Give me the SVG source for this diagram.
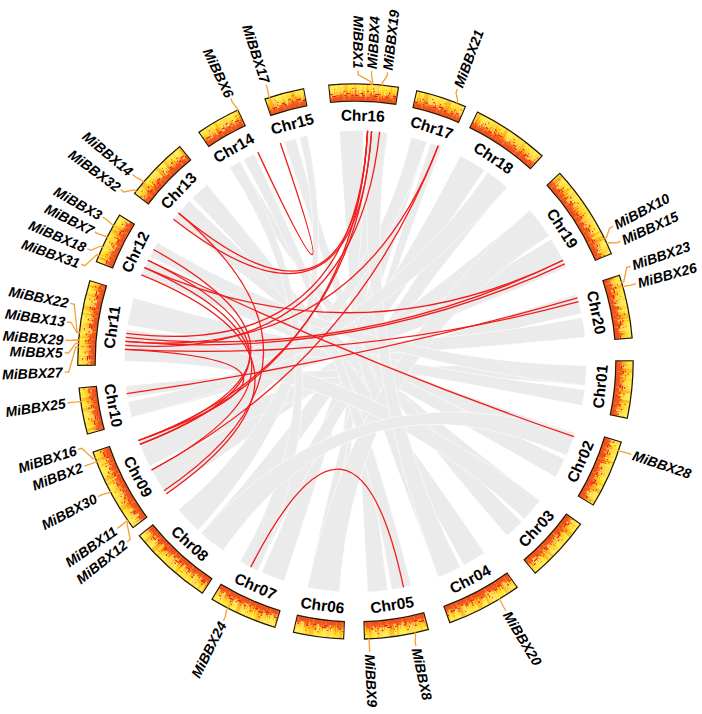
<svg xmlns="http://www.w3.org/2000/svg" xmlns:xlink="http://www.w3.org/1999/xlink" width="702" height="714" viewBox="0 0 702 714">
<style>
.rib{fill:#ebebeb;stroke:#ffffff;stroke-width:0.6}
.red{fill:none;stroke:#f21c1c;stroke-width:1.3}
.bo{fill:none;stroke:#2a1800;stroke-width:18.6}
.bf{fill:none;stroke:url(#heat);stroke-width:16}
.tx{fill:none}
.cl{font-family:"Liberation Sans",Arial,sans-serif;font-weight:bold;font-size:15.5px;text-anchor:middle;dominant-baseline:central;fill:#000}
.gn{font-family:"Liberation Sans",Arial,sans-serif;font-weight:bold;font-style:italic;font-size:14px;dominant-baseline:central;fill:#000}
.gl{text-anchor:end}
.ld{fill:none;stroke:#f5a030;stroke-width:1.3}
</style>
<defs>
<radialGradient id="heat" gradientUnits="userSpaceOnUse" cx="355.5" cy="361.5" r="277">
<stop offset="0.942" stop-color="#f26522"/>
<stop offset="0.958" stop-color="#f8961d"/>
<stop offset="0.975" stop-color="#ffcc1f"/>
<stop offset="1" stop-color="#fff345"/>
</radialGradient>
<path id="ring" d="M355.5,92.5 A269,269 0 1,1 355.5,630.5 A269,269 0 1,1 355.5,92.5Z" pathLength="360"/>
<mask id="bandMask" maskUnits="userSpaceOnUse" x="0" y="0" width="702" height="714">
<path d="M355.5,92.5 A269,269 0 1,1 355.5,630.5 A269,269 0 1,1 355.5,92.5Z" pathLength="360" fill="none" stroke="#fff" stroke-width="16" stroke-dasharray="14.2 4.1 10.3 3 15.9 5.4 19.5 5 13 5 11.7 5.3 14 5 13.5 5 15.5 4.9 13.1 4.6 10.2 4.2 14 2.6 17.4 2.4 17.4 4.2 9.4 4.9 17.5 4.4 10.5 5.7 13.2 5.2 9 6.3 8 5.5" stroke-dashoffset="5.4"/>
</mask>
</defs>
<rect x="0" y="0" width="702" height="714" fill="#ffffff"/>

<g id="ribbons">
<path class="rib" d="M339.39,131.06 A231,231 0 0,1 363.56,130.64 Q355.5,361.5 387.65,590.25 A231,231 0 0,1 367.59,592.18 Q355.5,361.5 339.39,131.06Z"/>
<path class="rib" d="M367.59,130.82 A231,231 0 0,1 387.65,132.75 Q355.5,361.5 339.39,591.94 A231,231 0 0,1 323.35,590.25 Q355.5,361.5 367.59,130.82Z"/>
<path class="rib" d="M411.38,137.36 A231,231 0 0,1 426.88,141.81 Q355.5,361.5 284.12,581.19 A231,231 0 0,1 261.54,572.53 Q355.5,361.5 411.38,137.36Z"/>
<path class="rib" d="M430.71,143.08 A231,231 0 0,1 442.04,147.32 Q355.5,361.5 319.36,589.66 A231,231 0 0,1 307.47,587.45 Q355.5,361.5 430.71,143.08Z"/>
<path class="rib" d="M460.37,155.68 A231,231 0 0,1 484.67,169.99 Q355.5,361.5 223,550.72 A231,231 0 0,1 200.93,533.17 Q355.5,361.5 460.37,155.68Z"/>
<path class="rib" d="M488,172.28 A231,231 0 0,1 507.05,187.16 Q355.5,361.5 257.87,570.86 A231,231 0 0,1 240,561.55 Q355.5,361.5 488,172.28Z"/>
<path class="rib" d="M529.84,209.95 A231,231 0 0,1 549.23,235.69 Q355.5,361.5 166.28,494 A231,231 0 0,1 151.54,469.95 Q355.5,361.5 529.84,209.95Z"/>
<path class="rib" d="M551.4,239.09 A231,231 0 0,1 566.53,267.54 Q355.5,361.5 131.36,417.38 A231,231 0 0,1 128.01,401.61 Q355.5,361.5 551.4,239.09Z"/>
<path class="rib" d="M576.41,293.96 A231,231 0 0,1 581.45,313.47 Q355.5,361.5 149.68,466.37 A231,231 0 0,1 138.43,440.51 Q355.5,361.5 576.41,293.96Z"/>
<path class="rib" d="M582.26,317.42 A231,231 0 0,1 585.23,337.35 Q355.5,361.5 124.5,361.5 A231,231 0 0,1 126.75,329.35 Q355.5,361.5 582.26,317.42Z"/>
<path class="rib" d="M586.47,365.53 A231,231 0 0,1 585.23,385.65 Q355.5,361.5 127.34,397.64 A231,231 0 0,1 125.77,385.65 Q355.5,361.5 586.47,365.53Z"/>
<path class="rib" d="M584.78,389.65 A231,231 0 0,1 582.26,405.58 Q355.5,361.5 127.34,325.36 A231,231 0 0,1 133.45,297.83 Q355.5,361.5 584.78,389.65Z"/>
<path class="rib" d="M575.19,432.88 A231,231 0 0,1 566.53,455.46 Q355.5,361.5 141.32,274.96 A231,231 0 0,1 147.88,260.24 Q355.5,361.5 575.19,432.88Z"/>
<path class="rib" d="M564.86,459.13 A231,231 0 0,1 555.55,477 Q355.5,361.5 149.68,256.63 A231,231 0 0,1 157.49,242.53 Q355.5,361.5 564.86,459.13Z"/>
<path class="rib" d="M539.99,500.52 A231,231 0 0,1 524.44,519.04 Q355.5,361.5 173.47,219.28 A231,231 0 0,1 189.33,201.03 Q355.5,361.5 539.99,500.52Z"/>
<path class="rib" d="M521.67,521.97 A231,231 0 0,1 507.05,535.84 Q355.5,361.5 229.69,167.77 A231,231 0 0,1 240,161.45 Q355.5,361.5 521.67,521.97Z"/>
<path class="rib" d="M484.67,553.01 A231,231 0 0,1 463.95,565.46 Q355.5,361.5 192.16,198.16 A231,231 0 0,1 207.02,184.54 Q355.5,361.5 484.67,553.01Z"/>
<path class="rib" d="M460.37,567.32 A231,231 0 0,1 438.28,577.16 Q355.5,361.5 284.12,141.81 A231,231 0 0,1 295.71,138.37 Q355.5,361.5 460.37,567.32Z"/>
<path class="rib" d="M411.38,585.64 A231,231 0 0,1 391.64,589.66 Q355.5,361.5 243.51,159.46 A231,231 0 0,1 254.24,153.88 Q355.5,361.5 411.38,585.64Z"/>
<path class="rib" d="M197.96,530.44 A231,231 0 0,1 178.54,509.98 Q355.5,361.5 299.62,137.36 A231,231 0 0,1 307.47,135.55 Q355.5,361.5 197.96,530.44Z"/>
<path class="rib" d="M411.38,137.36 A231,231 0 0,1 426.88,141.81 Q355.5,361.5 149.68,466.37 A231,231 0 0,1 138.43,440.51 Q355.5,361.5 411.38,137.36Z"/>
<path class="rib" d="M529.84,209.95 A231,231 0 0,1 549.23,235.69 Q355.5,361.5 339.39,591.94 A231,231 0 0,1 307.47,587.45 Q355.5,361.5 529.84,209.95Z"/>
<path class="rib" d="M586.47,365.53 A231,231 0 0,1 585.23,385.65 Q355.5,361.5 149.68,256.63 A231,231 0 0,1 157.49,242.53 Q355.5,361.5 586.47,365.53Z"/>
<path class="rib" d="M539.99,500.52 A231,231 0 0,1 524.44,519.04 Q355.5,361.5 124.5,361.5 A231,231 0 0,1 126.75,329.35 Q355.5,361.5 539.99,500.52Z"/>
<path class="rib" d="M367.59,130.82 A231,231 0 0,1 387.65,132.75 Q355.5,361.5 460.37,567.32 A231,231 0 0,1 438.28,577.16 Q355.5,361.5 367.59,130.82Z"/>
<path class="rib" d="M257.87,570.86 A231,231 0 0,1 240,561.55 Q355.5,361.5 229.69,167.77 A231,231 0 0,1 240,161.45 Q355.5,361.5 257.87,570.86Z"/>
<path class="rib" d="M488,172.28 A231,231 0 0,1 507.05,187.16 Q355.5,361.5 131.36,417.38 A231,231 0 0,1 128.01,401.61 Q355.5,361.5 488,172.28Z"/>
<path class="rib" d="M575.19,432.88 A231,231 0 0,1 566.53,455.46 Q355.5,361.5 223,550.72 A231,231 0 0,1 200.93,533.17 Q355.5,361.5 575.19,432.88Z"/>
</g>

<g id="links">
<path class="red" d="M403.53,587.45 Q355.5,361.5 250.63,567.32"/>
<path class="red" d="M257.87,152.14 Q355.5,361.5 280.29,143.08"/>
<path class="red" d="M573.92,436.71 Q355.5,361.5 147.88,260.24"/>
<path class="red" d="M563.12,260.24 Q355.5,361.5 125.77,337.35"/>
<path class="red" d="M564.86,263.87 Q355.5,361.5 125.38,341.37"/>
<path class="red" d="M577.55,297.83 Q355.5,361.5 126.75,393.65"/>
<path class="red" d="M578.63,301.71 Q355.5,361.5 124.82,349.41"/>
<path class="red" d="M367.59,130.82 Q355.5,361.5 139.84,444.28"/>
<path class="red" d="M371.61,131.06 Q355.5,361.5 138.43,440.51"/>
<path class="red" d="M379.65,131.77 Q355.5,361.5 125.06,345.39"/>
<path class="red" d="M438.28,145.84 Q355.5,361.5 125.38,341.37"/>
<path class="red" d="M438.28,145.84 Q355.5,361.5 151.54,469.95"/>
<path class="red" d="M153.46,249.51 Q355.5,361.5 138.43,440.51"/>
<path class="red" d="M147.88,260.24 Q355.5,361.5 139.84,444.28"/>
<path class="red" d="M144.47,267.54 Q355.5,361.5 151.54,469.95"/>
<path class="red" d="M141.32,274.96 Q355.5,361.5 166.28,494"/>
<path class="red" d="M178.54,213.02 Q355.5,361.5 163.99,490.67"/>
<path class="red" d="M178.54,213.02 Q355.5,361.5 367.59,130.82"/>
<path class="red" d="M173.47,219.28 Q355.5,361.5 371.61,131.06"/>
<path class="red" d="M144.47,267.54 Q355.5,361.5 563.12,260.24"/>
<path class="red" d="M126.22,333.35 Q355.5,361.5 367.59,130.82"/>
<path class="red" d="M124.82,349.41 Q355.5,361.5 138.43,440.51"/>
</g>

<g id="chr16">
<use xlink:href="#ring" href="#ring" class="bo" stroke-dasharray="14.7 345.3" stroke-dashoffset="5.65"/>
<use xlink:href="#ring" href="#ring" class="bf" stroke-dasharray="14.2 345.8" stroke-dashoffset="5.4"/>
<text class="cl" x="355.5" y="115.5" transform="rotate(1.7 355.5 361.5)">Chr16</text>
<g id="MiBBX1"><path class="ld" transform="rotate(0.5 355.5 361.5)" d="M368.55,84.81 L368.69,81.81 L355.5,74.5 L355.5,70.5"/><text class="gn gl" x="62.5" y="361.5" transform="rotate(90.5 355.5 361.5)">MiBBX1</text></g>
<g id="MiBBX4"><path class="ld" transform="rotate(3.2 355.5 361.5)" d="M356.95,84.5 L356.97,81.5 L355.5,74.5 L355.5,70.5"/><text class="gn" x="648.5" y="361.5" transform="rotate(-86.8 355.5 361.5)">MiBBX4</text></g>
<g id="MiBBX19"><path class="ld" transform="rotate(6.3 355.5 361.5)" d="M351.63,84.5 L351.59,81.5 L355.5,74.5 L355.5,70.5"/><text class="gn" x="648.5" y="361.5" transform="rotate(-83.7 355.5 361.5)">MiBBX19</text></g>
</g>

<g id="chr17">
<use xlink:href="#ring" href="#ring" class="bo" stroke-dasharray="10.8 349.2" stroke-dashoffset="-12.65"/>
<use xlink:href="#ring" href="#ring" class="bf" stroke-dasharray="10.3 349.7" stroke-dashoffset="-12.9"/>
<text class="cl" x="355.5" y="115.5" transform="rotate(18.05 355.5 361.5)">Chr17</text>
<g id="MiBBX21"><path class="ld" transform="rotate(20.5 355.5 361.5)" d="M359.85,84.5 L359.9,81.5 L355.5,74.5 L355.5,70.5"/><text class="gn" x="648.5" y="361.5" transform="rotate(-69.5 355.5 361.5)">MiBBX21</text></g>
</g>

<g id="chr18">
<use xlink:href="#ring" href="#ring" class="bo" stroke-dasharray="16.4 343.6" stroke-dashoffset="-25.95"/>
<use xlink:href="#ring" href="#ring" class="bf" stroke-dasharray="15.9 344.1" stroke-dashoffset="-26.2"/>
<text class="cl" x="355.5" y="115.5" transform="rotate(34.15 355.5 361.5)">Chr18</text>
</g>

<g id="chr19">
<use xlink:href="#ring" href="#ring" class="bo" stroke-dasharray="20 340" stroke-dashoffset="-47.25"/>
<use xlink:href="#ring" href="#ring" class="bf" stroke-dasharray="19.5 340.5" stroke-dashoffset="-47.5"/>
<text class="cl" x="355.5" y="115.5" transform="rotate(57.25 355.5 361.5)">Chr19</text>
<g id="MiBBX10"><path class="ld" transform="rotate(62.3 355.5 361.5)" d="M362.27,84.6 L362.34,81.6 L355.5,74.5 L355.5,70.5"/><text class="gn" x="648.5" y="361.5" transform="rotate(-27.7 355.5 361.5)">MiBBX10</text></g>
<g id="MiBBX15"><path class="ld" transform="rotate(65.6 355.5 361.5)" d="M352.12,84.5 L352.08,81.5 L355.5,74.5 L355.5,70.5"/><text class="gn" x="648.5" y="361.5" transform="rotate(-24.4 355.5 361.5)">MiBBX15</text></g>
</g>

<g id="chr20">
<use xlink:href="#ring" href="#ring" class="bo" stroke-dasharray="13.5 346.5" stroke-dashoffset="-71.75"/>
<use xlink:href="#ring" href="#ring" class="bf" stroke-dasharray="13 347" stroke-dashoffset="-72"/>
<text class="cl" x="355.5" y="115.5" transform="rotate(78.5 355.5 361.5)">Chr20</text>
<g id="MiBBX23"><path class="ld" transform="rotate(70.9 355.5 361.5)" d="M367.58,84.76 L367.71,81.77 L355.5,74.5 L355.5,70.5"/><text class="gn" x="648.5" y="361.5" transform="rotate(-19.1 355.5 361.5)">MiBBX23</text></g>
<g id="MiBBX26"><path class="ld" transform="rotate(74.5 355.5 361.5)" d="M355.02,84.5 L355.01,81.5 L355.5,74.5 L355.5,70.5"/><text class="gn" x="648.5" y="361.5" transform="rotate(-15.5 355.5 361.5)">MiBBX26</text></g>
</g>

<g id="chr01">
<use xlink:href="#ring" href="#ring" class="bo" stroke-dasharray="12.2 347.8" stroke-dashoffset="-89.75"/>
<use xlink:href="#ring" href="#ring" class="bf" stroke-dasharray="11.7 348.3" stroke-dashoffset="-90"/>
<text class="cl" x="355.5" y="607.5" transform="rotate(-84.15 355.5 361.5)">Chr01</text>
</g>

<g id="chr02">
<use xlink:href="#ring" href="#ring" class="bo" stroke-dasharray="14.5 345.5" stroke-dashoffset="-106.75"/>
<use xlink:href="#ring" href="#ring" class="bf" stroke-dasharray="14 346" stroke-dashoffset="-107"/>
<text class="cl" x="355.5" y="607.5" transform="rotate(-66 355.5 361.5)">Chr02</text>
<g id="MiBBX28"><path class="ld" transform="rotate(108.6 355.5 361.5)" d="M355.98,84.5 L355.99,81.5 L355.5,74.5 L355.5,70.5"/><text class="gn" x="648.5" y="361.5" transform="rotate(18.6 355.5 361.5)">MiBBX28</text></g>
</g>

<g id="chr03">
<use xlink:href="#ring" href="#ring" class="bo" stroke-dasharray="14 346" stroke-dashoffset="-125.75"/>
<use xlink:href="#ring" href="#ring" class="bf" stroke-dasharray="13.5 346.5" stroke-dashoffset="-126"/>
<text class="cl" x="355.5" y="607.5" transform="rotate(-47.25 355.5 361.5)">Chr03</text>
</g>

<g id="chr04">
<use xlink:href="#ring" href="#ring" class="bo" stroke-dasharray="16 344" stroke-dashoffset="-144.25"/>
<use xlink:href="#ring" href="#ring" class="bf" stroke-dasharray="15.5 344.5" stroke-dashoffset="-144.5"/>
<text class="cl" x="355.5" y="607.5" transform="rotate(-27.75 355.5 361.5)">Chr04</text>
<g id="MiBBX20"><path class="ld" transform="rotate(148.9 355.5 361.5)" d="M355.02,84.5 L355.01,81.5 L355.5,74.5 L355.5,70.5"/><text class="gn" x="648.5" y="361.5" transform="rotate(58.9 355.5 361.5)">MiBBX20</text></g>
</g>

<g id="chr05">
<use xlink:href="#ring" href="#ring" class="bo" stroke-dasharray="13.6 346.4" stroke-dashoffset="-164.65"/>
<use xlink:href="#ring" href="#ring" class="bf" stroke-dasharray="13.1 346.9" stroke-dashoffset="-164.9"/>
<text class="cl" x="355.5" y="607.5" transform="rotate(-8.55 355.5 361.5)">Chr05</text>
<g id="MiBBX8"><path class="ld" transform="rotate(168 355.5 361.5)" d="M353.57,84.5 L353.55,81.5 L355.5,74.5 L355.5,70.5"/><text class="gn" x="648.5" y="361.5" transform="rotate(78 355.5 361.5)">MiBBX8</text></g>
<g id="MiBBX9"><path class="ld" transform="rotate(177.2 355.5 361.5)" d="M355.5,84.5 L355.5,70.5"/><text class="gn" x="648.5" y="361.5" transform="rotate(87.2 355.5 361.5)">MiBBX9</text></g>
</g>

<g id="chr06">
<use xlink:href="#ring" href="#ring" class="bo" stroke-dasharray="10.7 349.3" stroke-dashoffset="-182.35"/>
<use xlink:href="#ring" href="#ring" class="bf" stroke-dasharray="10.2 349.8" stroke-dashoffset="-182.6"/>
<text class="cl" x="355.5" y="607.5" transform="rotate(7.7 355.5 361.5)">Chr06</text>
</g>

<g id="chr07">
<use xlink:href="#ring" href="#ring" class="bo" stroke-dasharray="14.5 345.5" stroke-dashoffset="-196.75"/>
<use xlink:href="#ring" href="#ring" class="bf" stroke-dasharray="14 346" stroke-dashoffset="-197"/>
<text class="cl" x="355.5" y="607.5" transform="rotate(24 355.5 361.5)">Chr07</text>
<g id="MiBBX24"><path class="ld" transform="rotate(-153 355.5 361.5)" d="M357.43,84.5 L357.45,81.5 L355.5,74.5 L355.5,70.5"/><text class="gn gl" x="62.5" y="361.5" transform="rotate(-63 355.5 361.5)">MiBBX24</text></g>
</g>

<g id="chr08">
<use xlink:href="#ring" href="#ring" class="bo" stroke-dasharray="17.9 342.1" stroke-dashoffset="-213.35"/>
<use xlink:href="#ring" href="#ring" class="bf" stroke-dasharray="17.4 342.6" stroke-dashoffset="-213.6"/>
<text class="cl" x="355.5" y="607.5" transform="rotate(42.3 355.5 361.5)">Chr08</text>
</g>

<g id="chr09">
<use xlink:href="#ring" href="#ring" class="bo" stroke-dasharray="17.9 342.1" stroke-dashoffset="-233.15"/>
<use xlink:href="#ring" href="#ring" class="bf" stroke-dasharray="17.4 342.6" stroke-dashoffset="-233.4"/>
<text class="cl" x="355.5" y="607.5" transform="rotate(62.1 355.5 361.5)">Chr09</text>
<g id="MiBBX16"><path class="ld" transform="rotate(-107.6 355.5 361.5)" d="M342.45,84.81 L342.31,81.81 L355.5,74.5 L355.5,70.5"/><text class="gn gl" x="62.5" y="361.5" transform="rotate(-17.6 355.5 361.5)">MiBBX16</text></g>
<g id="MiBBX2"><path class="ld" transform="rotate(-111.1 355.5 361.5)" d="M355.02,84.5 L355.01,81.5 L355.5,74.5 L355.5,70.5"/><text class="gn gl" x="62.5" y="361.5" transform="rotate(-21.1 355.5 361.5)">MiBBX2</text></g>
<g id="MiBBX30"><path class="ld" transform="rotate(-117.7 355.5 361.5)" d="M354.05,84.5 L354.03,81.5 L355.5,74.5 L355.5,70.5"/><text class="gn gl" x="62.5" y="361.5" transform="rotate(-27.7 355.5 361.5)">MiBBX30</text></g>
<g id="MiBBX11"><path class="ld" transform="rotate(-125 355.5 361.5)" d="M355.98,84.5 L355.99,81.5 L355.5,74.5 L355.5,70.5"/><text class="gn gl" x="62.5" y="361.5" transform="rotate(-35 355.5 361.5)">MiBBX11</text></g>
<g id="MiBBX12"><path class="ld" transform="rotate(-128.3 355.5 361.5)" d="M370,84.88 L370.15,81.88 L355.5,74.5 L355.5,70.5"/><text class="gn gl" x="62.5" y="361.5" transform="rotate(-38.3 355.5 361.5)">MiBBX12</text></g>
</g>

<g id="chr10">
<use xlink:href="#ring" href="#ring" class="bo" stroke-dasharray="9.9 350.1" stroke-dashoffset="-254.75"/>
<use xlink:href="#ring" href="#ring" class="bf" stroke-dasharray="9.4 350.6" stroke-dashoffset="-255"/>
<text class="cl" x="355.5" y="607.5" transform="rotate(79.7 355.5 361.5)">Chr10</text>
<g id="MiBBX25"><path class="ld" transform="rotate(-98.2 355.5 361.5)" d="M355.02,84.5 L355.01,81.5 L355.5,74.5 L355.5,70.5"/><text class="gn gl" x="62.5" y="361.5" transform="rotate(-8.2 355.5 361.5)">MiBBX25</text></g>
</g>

<g id="chr11">
<use xlink:href="#ring" href="#ring" class="bo" stroke-dasharray="18 342" stroke-dashoffset="-269.05"/>
<use xlink:href="#ring" href="#ring" class="bf" stroke-dasharray="17.5 342.5" stroke-dashoffset="-269.3"/>
<text class="cl" x="355.5" y="115.5" transform="rotate(-81.95 355.5 361.5)">Chr11</text>
<g id="MiBBX22"><path class="ld" transform="rotate(-78.5 355.5 361.5)" d="M329.43,85.73 L329.15,82.74 L355.5,74.5 L355.5,70.5"/><text class="gn gl" x="62.5" y="361.5" transform="rotate(11.5 355.5 361.5)">MiBBX22</text></g>
<g id="MiBBX13"><path class="ld" transform="rotate(-82.2 355.5 361.5)" d="M346.32,84.65 L346.22,81.65 L355.5,74.5 L355.5,70.5"/><text class="gn gl" x="62.5" y="361.5" transform="rotate(7.8 355.5 361.5)">MiBBX13</text></g>
<g id="MiBBX29"><path class="ld" transform="rotate(-85.8 355.5 361.5)" d="M356.47,84.5 L356.48,81.5 L355.5,74.5 L355.5,70.5"/><text class="gn gl" x="62.5" y="361.5" transform="rotate(4.2 355.5 361.5)">MiBBX29</text></g>
<g id="MiBBX5"><path class="ld" transform="rotate(-88.3 355.5 361.5)" d="M365.65,84.69 L365.76,81.69 L355.5,74.5 L355.5,70.5"/><text class="gn gl" x="62.5" y="361.5" transform="rotate(1.7 355.5 361.5)">MiBBX5</text></g>
<g id="MiBBX27"><path class="ld" transform="rotate(-92.1 355.5 361.5)" d="M380.12,85.6 L380.39,82.61 L355.5,74.5 L355.5,70.5"/><text class="gn gl" x="62.5" y="361.5" transform="rotate(-2.1 355.5 361.5)">MiBBX27</text></g>
</g>

<g id="chr12">
<use xlink:href="#ring" href="#ring" class="bo" stroke-dasharray="11 349" stroke-dashoffset="-290.95"/>
<use xlink:href="#ring" href="#ring" class="bf" stroke-dasharray="10.5 349.5" stroke-dashoffset="-291.2"/>
<text class="cl" x="355.5" y="115.5" transform="rotate(-63.55 355.5 361.5)">Chr12</text>
<g id="MiBBX3"><path class="ld" transform="rotate(-60.3 355.5 361.5)" d="M354.05,84.5 L354.03,81.5 L355.5,74.5 L355.5,70.5"/><text class="gn gl" x="62.5" y="361.5" transform="rotate(29.7 355.5 361.5)">MiBBX3</text></g>
<g id="MiBBX7"><path class="ld" transform="rotate(-63.6 355.5 361.5)" d="M356.47,84.5 L356.48,81.5 L355.5,74.5 L355.5,70.5"/><text class="gn gl" x="62.5" y="361.5" transform="rotate(26.4 355.5 361.5)">MiBBX7</text></g>
<g id="MiBBX18"><path class="ld" transform="rotate(-67.2 355.5 361.5)" d="M362.75,84.59 L362.83,81.6 L355.5,74.5 L355.5,70.5"/><text class="gn gl" x="62.5" y="361.5" transform="rotate(22.8 355.5 361.5)">MiBBX18</text></g>
<g id="MiBBX31"><path class="ld" transform="rotate(-70.5 355.5 361.5)" d="M369.51,84.85 L369.67,81.86 L355.5,74.5 L355.5,70.5"/><text class="gn gl" x="62.5" y="361.5" transform="rotate(19.5 355.5 361.5)">MiBBX31</text></g>
</g>

<g id="chr13">
<use xlink:href="#ring" href="#ring" class="bo" stroke-dasharray="13.7 346.3" stroke-dashoffset="-307.15"/>
<use xlink:href="#ring" href="#ring" class="bf" stroke-dasharray="13.2 346.8" stroke-dashoffset="-307.4"/>
<text class="cl" x="355.5" y="115.5" transform="rotate(-46 355.5 361.5)">Chr13</text>
<g id="MiBBX14"><path class="ld" transform="rotate(-50 355.5 361.5)" d="M356.95,84.5 L356.97,81.5 L355.5,74.5 L355.5,70.5"/><text class="gn gl" x="62.5" y="361.5" transform="rotate(40 355.5 361.5)">MiBBX14</text></g>
<g id="MiBBX32"><path class="ld" transform="rotate(-53.8 355.5 361.5)" d="M363.23,84.61 L363.32,81.61 L355.5,74.5 L355.5,70.5"/><text class="gn gl" x="62.5" y="361.5" transform="rotate(36.2 355.5 361.5)">MiBBX32</text></g>
</g>

<g id="chr14">
<use xlink:href="#ring" href="#ring" class="bo" stroke-dasharray="9.5 350.5" stroke-dashoffset="-325.55"/>
<use xlink:href="#ring" href="#ring" class="bf" stroke-dasharray="9 351" stroke-dashoffset="-325.8"/>
<text class="cl" x="355.5" y="115.5" transform="rotate(-29.7 355.5 361.5)">Chr14</text>
<g id="MiBBX6"><path class="ld" transform="rotate(-25.4 355.5 361.5)" d="M356.95,84.5 L356.97,81.5 L355.5,74.5 L355.5,70.5"/><text class="gn gl" x="62.5" y="361.5" transform="rotate(64.6 355.5 361.5)">MiBBX6</text></g>
</g>

<g id="chr15">
<use xlink:href="#ring" href="#ring" class="bo" stroke-dasharray="8.5 351.5" stroke-dashoffset="-340.85"/>
<use xlink:href="#ring" href="#ring" class="bf" stroke-dasharray="8 352" stroke-dashoffset="-341.1"/>
<text class="cl" x="355.5" y="115.5" transform="rotate(-14.9 355.5 361.5)">Chr15</text>
<g id="MiBBX17"><path class="ld" transform="rotate(-17.9 355.5 361.5)" d="M354.77,84.5 L354.77,81.5 L355.5,74.5 L355.5,70.5"/><text class="gn gl" x="62.5" y="361.5" transform="rotate(72.1 355.5 361.5)">MiBBX17</text></g>
</g>

<g id="band-texture" mask="url(#bandMask)">
<path class="tx" d="M355.5,92.5 A269,269 0 1,1 355.5,630.5 A269,269 0 1,1 355.5,92.5Z" pathLength="360" stroke="#f7941d" stroke-opacity="0.45" stroke-width="16" stroke-dasharray="0.8 1.5 0.4 0.9 1.6 2.2 0.3 0.7 1.1 1.4"/>
<path class="tx" d="M355.5,90.5 A271,271 0 1,1 355.5,632.5 A271,271 0 1,1 355.5,90.5Z" pathLength="360" stroke="#fff06a" stroke-opacity="0.6" stroke-width="12" stroke-dasharray="1.3 0.6 0.4 1.1 2.2 0.5 0.7 1.6 0.3 0.9 1.8 0.7"/>
<path class="tx" d="M355.5,98.5 A263,263 0 1,1 355.5,624.5 A263,263 0 1,1 355.5,98.5Z" pathLength="360" stroke="#ef4123" stroke-opacity="0.75" stroke-width="4" stroke-dasharray="2.1 0.2 0.8 0.15 1.5 0.3 0.6 0.1 2.4 0.25 1.1 0.2"/>
<path class="tx" d="M355.5,95.5 A266,266 0 1,1 355.5,627.5 A266,266 0 1,1 355.5,95.5Z" pathLength="360" stroke="#f15a22" stroke-opacity="0.7" stroke-width="2.5" stroke-dasharray="0.9 0.6 0.4 1.1 1.6 0.5 0.3 0.8 1.2 0.9 0.6 0.4 2.0 1.3"/>
<path class="tx" d="M355.5,95.5 A266,266 0 1,1 355.5,627.5 A266,266 0 1,1 355.5,95.5Z" pathLength="360" stroke="#e8101a" stroke-width="1.1" stroke-dasharray="0.5 1.2 0.3 2.0 0.8 0.9 0.2 0.6"/>
<path class="tx" d="M355.5,93.5 A268,268 0 1,1 355.5,629.5 A268,268 0 1,1 355.5,93.5Z" pathLength="360" stroke="#e8101a" stroke-width="1.1" stroke-dasharray="0.2 0.9 0.6 1.5 0.3 0.7 1.0 1.8"/>
<path class="tx" d="M355.5,91 A270.5,270.5 0 1,1 355.5,632 A270.5,270.5 0 1,1 355.5,91Z" pathLength="360" stroke="#e8101a" stroke-width="1.1" stroke-dasharray="0.25 2.2 0.4 1.1 0.2 3.0"/>
<path class="tx" d="M355.5,88.5 A273,273 0 1,1 355.5,634.5 A273,273 0 1,1 355.5,88.5Z" pathLength="360" stroke="#e8101a" stroke-width="1" stroke-dasharray="0.15 3.5 0.3 2.4"/>
<path class="tx" d="M355.5,93.5 A268,268 0 1,1 355.5,629.5 A268,268 0 1,1 355.5,93.5Z" pathLength="360" stroke="#e8101a" stroke-width="6" stroke-dasharray="0.06 0.5 0.06 0.9 0.06 0.4 0.06 1.3"/>
</g>
</svg>
